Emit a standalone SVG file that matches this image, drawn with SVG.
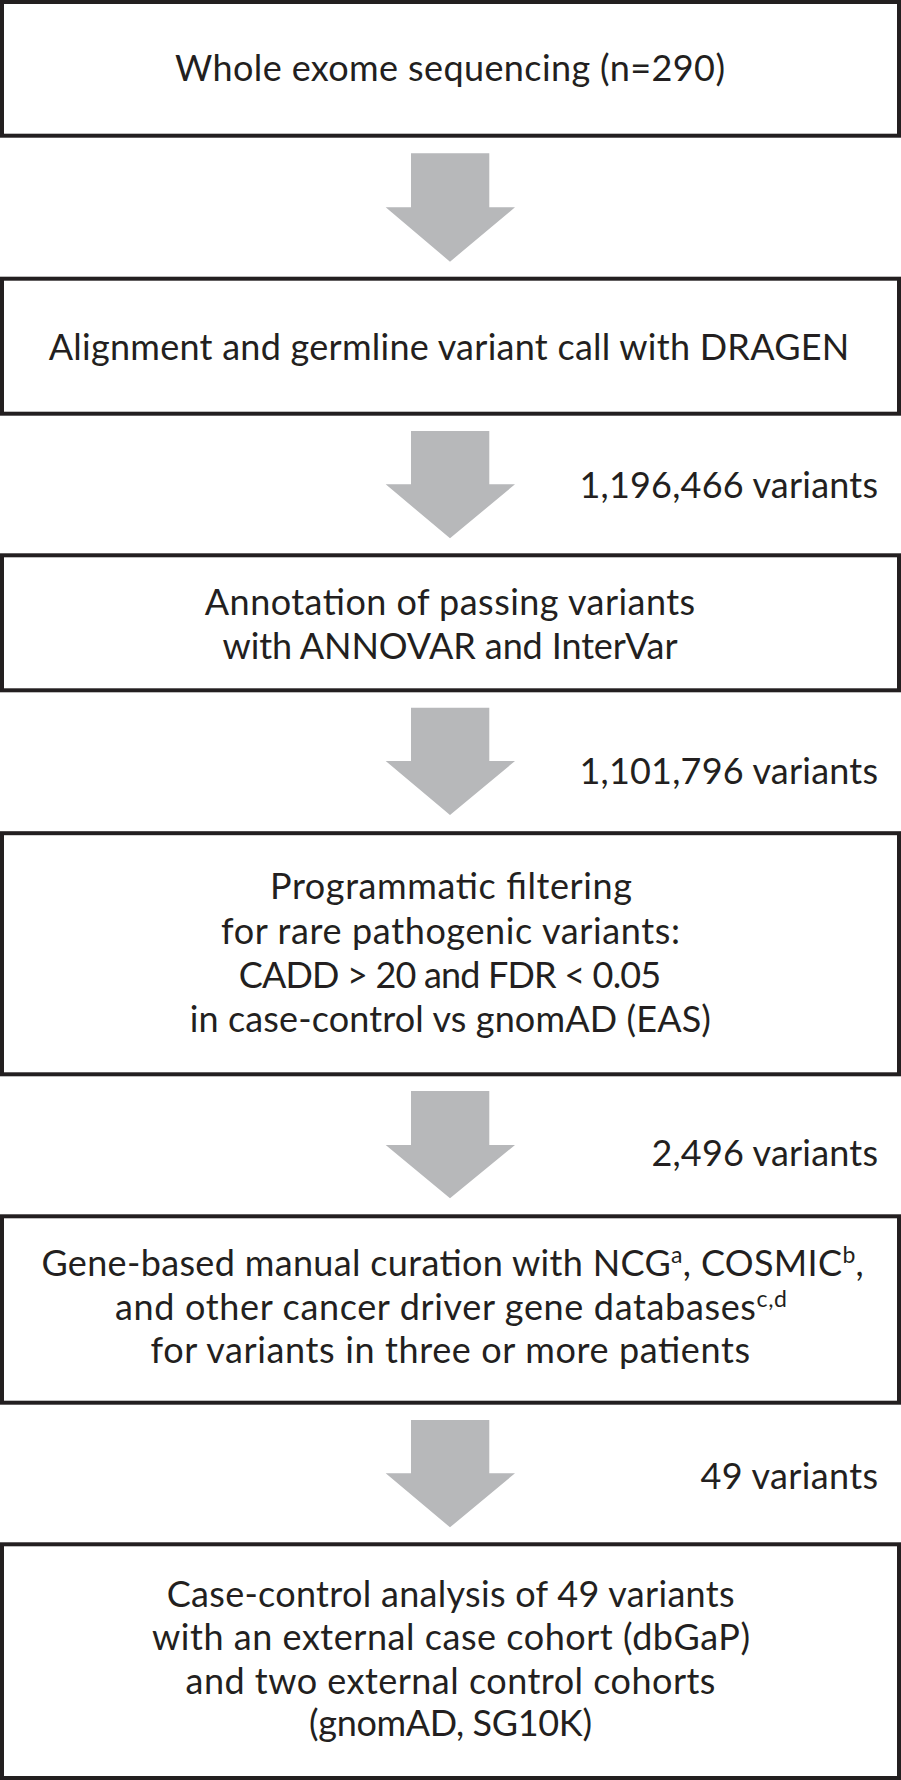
<svg xmlns="http://www.w3.org/2000/svg" width="901" height="1780" viewBox="0 0 901 1780">
<style>
.box{fill:#ffffff;stroke:#231f20;stroke-width:4}
.arr{fill:#b7b8ba}
text{font-family:Lato,"Liberation Sans",sans-serif;font-size:36px;fill:#231f20}
.c{text-anchor:middle}
.r{text-anchor:end}
.sup{font-size:23px}
</style>
<rect x="0" y="0" width="901" height="1780" fill="#ffffff"/>
<g id="connectors">
<polygon class="arr" points="411,153.3 489.3,153.3 489.3,207.3 515,207.3 450,261.7 385.7,207.3 411,207.3"/>
<polygon class="arr" points="411,431 489.3,431 489.3,484.3 515,484.3 450,538.3 385.7,484.3 411,484.3"/>
<polygon class="arr" points="411,707.7 489.3,707.7 489.3,761 515,761 450,815 385.7,761 411,761"/>
<polygon class="arr" points="411,1091 489.3,1091 489.3,1145 515,1145 450,1198.3 385.7,1145 411,1145"/>
<polygon class="arr" points="411,1420 489.3,1420 489.3,1473.3 515,1473.3 450,1527.3 385.7,1473.3 411,1473.3"/>
<text class="r" x="878" y="498.3" textLength="298.6">1,196,466 variants</text>
<text class="r" x="878" y="784.4" textLength="298.6">1,101,796 variants</text>
<text class="r" x="878" y="1165.9" textLength="226.6">2,496 variants</text>
<text class="r" x="878" y="1489.3" textLength="177.6">49 variants</text>
</g>
<g id="n1">
<rect class="box" x="2" y="2" width="897" height="133.7"/>
<text class="c" x="450" y="80.8" textLength="550">Whole exome sequencing (n=290)</text>
</g>
<g id="n2">
<rect class="box" x="2" y="278.7" width="897" height="135"/>
<text class="c" x="449" y="360.1" textLength="800.5">Alignment and germline variant call with DRAGEN</text>
</g>
<g id="n3">
<rect class="box" x="2" y="555.3" width="897" height="135"/>
<text class="c" x="450" y="614.7" textLength="490.4">Annotation of passing variants</text>
<text class="c" x="450" y="658.5" textLength="455">with ANNOVAR and InterVar</text>
</g>
<g id="n4">
<rect class="box" x="2" y="833.2" width="897" height="241.1"/>
<text class="c" x="451" y="899.3" textLength="362">Programmatic filtering</text>
<text class="c" x="450.5" y="943.7" textLength="459">for rare pathogenic variants:</text>
<text class="c" x="450" y="987.5" textLength="422.5">CADD &gt; 20 and FDR &lt; 0.05</text>
<text class="c" x="450.3" y="1032.2" textLength="521.3">in case-control vs gnomAD (EAS)</text>
</g>
<g id="n5">
<rect class="box" x="2" y="1216.3" width="897" height="186.4"/>
<text class="c" x="452.6" y="1275.8" textLength="822.4">Gene-based manual curation with NCG<tspan class="sup" dy="-13">a</tspan><tspan dy="13">, COSMIC</tspan><tspan class="sup" dy="-13">b</tspan><tspan dy="13">,</tspan></text>
<text class="c" x="451" y="1320.2" textLength="672">and other cancer driver gene databases<tspan class="sup" dy="-13">c,d</tspan></text>
<text class="c" x="450.3" y="1362.8" textLength="599.4">for variants in three or more patients</text>
</g>
<g id="n6">
<rect class="box" x="2" y="1544.3" width="897" height="233.7"/>
<text class="c" x="450.6" y="1607" textLength="567.8">Case-control analysis of 49 variants</text>
<text class="c" x="451" y="1649.5" textLength="598">with an external case cohort (dbGaP)</text>
<text class="c" x="450.5" y="1693.9" textLength="529.9">and two external control cohorts</text>
<text class="c" x="450.5" y="1736.4" textLength="283">(gnomAD, SG10K)</text>
</g>
</svg>
